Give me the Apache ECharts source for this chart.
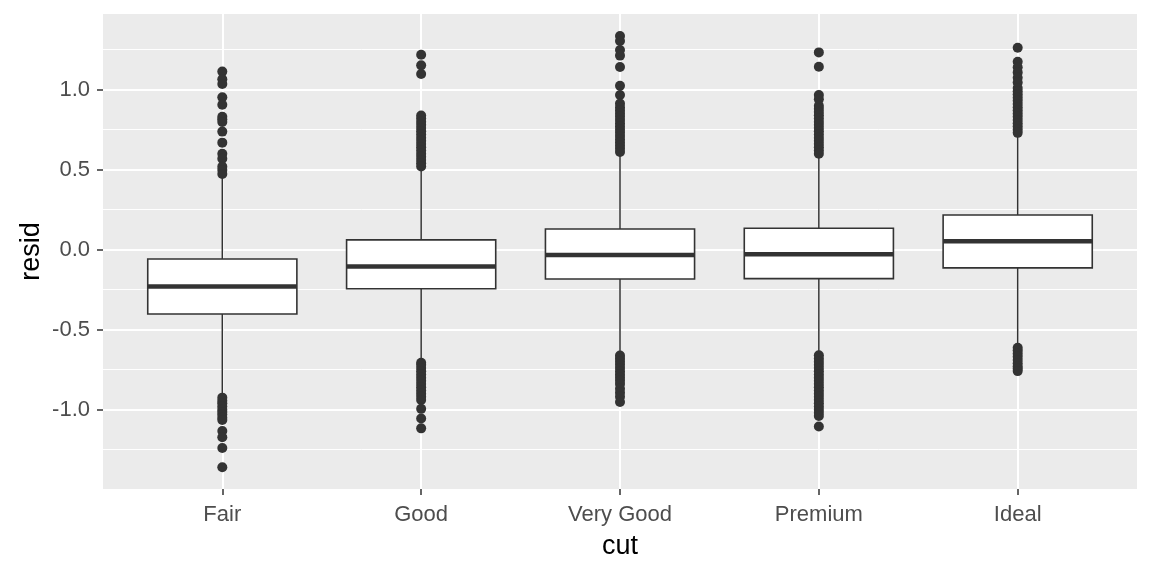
<!DOCTYPE html>
<html>
<head>
<meta charset="utf-8">
<script src="https://cdn.jsdelivr.net/npm/echarts@6/dist/echarts.min.js"></script>
<style>html,body{margin:0;padding:0;background:#fff}#c{width:1152px;height:576px}</style>
</head>
<body>
<div id="c"></div>
<script>
const categories = ['Fair', 'Good', 'Very Good', 'Premium', 'Ideal'];
const yTicks = [-1.0, -0.5, 0.0, 0.5, 1.0];
const yMinorTicks = [-1.25, -0.75, -0.25, 0.25, 0.75, 1.25];

const lowerWhisker = [-0.91, -0.70, -0.65, -0.65, -0.605];
const q1 = [-0.402, -0.244, -0.183, -0.181, -0.114];
const median = [-0.231, -0.106, -0.033, -0.029, 0.052];
const q3 = [-0.058, 0.061, 0.129, 0.134, 0.217];
const upperWhisker = [0.455, 0.50, 0.597, 0.60, 0.71];

const outFair = [1.113, 1.065, 1.036, 0.952, 0.906, 0.831, 0.815, 0.798, 0.738, 0.669, 0.60, 0.569, 0.519, 0.498, 0.473,
  -0.925, -0.945, -0.96, -0.98, -1.0, -1.015, -1.03, -1.05, -1.065, -1.133, -1.172, -1.24, -1.36];
const outGood = [1.218, 1.152, 1.098, 0.839, 0.82, 0.80, 0.78, 0.76, 0.74, 0.72, 0.70, 0.68, 0.66, 0.64, 0.62, 0.60, 0.58, 0.56, 0.54, 0.52,
  -0.707, -0.72, -0.74, -0.76, -0.78, -0.80, -0.82, -0.84, -0.86, -0.88, -0.90, -0.92, -0.94, -0.995, -1.055, -1.117];
const outVeryGood = [1.336, 1.304, 1.248, 1.213, 1.142, 1.025, 0.967, 0.914, 0.89, 0.87, 0.85, 0.83, 0.81, 0.79, 0.77, 0.75, 0.73, 0.71, 0.69, 0.67, 0.65, 0.63, 0.61,
  -0.661, -0.68, -0.70, -0.72, -0.74, -0.76, -0.78, -0.80, -0.82, -0.84, -0.87, -0.894, -0.92, -0.952];
const outPremium = [1.233, 1.143, 0.967, 0.94, 0.90, 0.88, 0.86, 0.84, 0.82, 0.80, 0.78, 0.76, 0.74, 0.72, 0.70, 0.68, 0.66, 0.64, 0.62, 0.60,
  -0.66, -0.68, -0.70, -0.72, -0.74, -0.76, -0.78, -0.80, -0.82, -0.84, -0.86, -0.88, -0.90, -0.92, -0.94, -0.96, -0.98, -1.00, -1.02, -1.04, -1.105];
const outIdeal = [1.2625, 1.174, 1.14, 1.108, 1.075, 1.045, 1.01, 0.99, 0.97, 0.95, 0.93, 0.91, 0.89, 0.87, 0.85, 0.83, 0.81, 0.79, 0.77, 0.75, 0.73,
  -0.613, -0.63, -0.65, -0.67, -0.69, -0.71, -0.73, -0.745, -0.759];

const outliers = [outFair, outGood, outVeryGood, outPremium, outIdeal];

const boxData = categories.map((c, i) => [i + 1, lowerWhisker[i], q1[i], median[i], q3[i], upperWhisker[i]]);
const outlierData = [];
outliers.forEach((arr, i) => arr.forEach(v => outlierData.push([i + 1, v])));

const INK = '#333333';
const FONT = '"Liberation Sans", Arial, sans-serif';

function renderBox(params, api) {
  const x = api.value(0);
  const lo = api.coord([x, api.value(1)]);
  const b1 = api.coord([x, api.value(2)]);
  const md = api.coord([x, api.value(3)]);
  const b3 = api.coord([x, api.value(4)]);
  const hi = api.coord([x, api.value(5)]);
  const half = api.size([0.75, 0])[0] / 2;
  return {
    type: 'group',
    children: [
      { type: 'line', shape: { x1: lo[0], y1: lo[1], x2: b1[0], y2: b1[1] }, style: { stroke: INK, lineWidth: 1.5 } },
      { type: 'line', shape: { x1: b3[0], y1: b3[1], x2: hi[0], y2: hi[1] }, style: { stroke: INK, lineWidth: 1.5 } },
      { type: 'rect', shape: { x: b3[0] - half, y: b3[1], width: half * 2, height: b1[1] - b3[1] },
        style: { fill: '#ffffff', stroke: INK, lineWidth: 1.6 } },
      { type: 'line', shape: { x1: md[0] - half, y1: md[1], x2: md[0] + half, y2: md[1] }, style: { stroke: INK, lineWidth: 4.5 } }
    ]
  };
}

const chart = echarts.init(document.getElementById('c'), null, { renderer: 'canvas' });
chart.setOption({
  animation: false,
  backgroundColor: '#ffffff',
  grid: { left: 103, right: 15, top: 14, bottom: 87, show: true, backgroundColor: '#EBEBEB', borderWidth: 0 },
  xAxis: {
    type: 'value', min: 0.4, max: 5.6,
    name: 'cut', nameLocation: 'middle', nameGap: 44, nameMoveOverlap: false,
    nameTextStyle: { fontFamily: FONT, fontSize: 27, color: '#000000' },
    axisLine: { show: false, onZero: false },
    axisTick: { show: true, length: 6, customValues: [1, 2, 3, 4, 5], lineStyle: { color: INK, width: 1.5 } },
    axisLabel: { customValues: [1, 2, 3, 4, 5], margin: 15, fontFamily: FONT, fontSize: 22, color: '#4D4D4D',
      formatter: v => categories[Math.round(v) - 1] },
    splitLine: { show: true, lineStyle: { color: '#ffffff', width: 2 } }
  },
  yAxis: [
    {
      type: 'value', min: -1.496, max: 1.473,
      name: 'resid', nameLocation: 'middle', nameGap: 58, nameRotate: 90, nameMoveOverlap: false,
      nameTextStyle: { fontFamily: FONT, fontSize: 27, color: '#000000' },
      axisLine: { show: false, onZero: false },
      axisTick: { show: true, length: 6, customValues: yTicks, lineStyle: { color: INK, width: 1.5 } },
      axisLabel: { customValues: yTicks, margin: 13, fontFamily: FONT, fontSize: 22, color: '#4D4D4D',
        formatter: v => v.toFixed(1) },
      splitLine: { show: true, lineStyle: { color: '#ffffff', width: 2 } }
    },
    {
      type: 'value', min: -1.496, max: 1.473, position: 'left',
      axisLine: { show: false, onZero: false },
      axisTick: { show: false, customValues: yMinorTicks },
      axisLabel: { show: false, customValues: yMinorTicks },
      splitLine: { show: true, lineStyle: { color: '#ffffff', width: 1 } }
    }
  ],
  series: [
    {
      type: 'custom', renderItem: renderBox, data: boxData, z: 2,
      encode: { x: 0, y: [1, 2, 3, 4, 5] }
    },
    {
      type: 'scatter', data: outlierData, symbol: 'circle', symbolSize: 10, z: 3,
      itemStyle: { color: INK, opacity: 1 }
    }
  ]
});
</script>
</body>
</html>
